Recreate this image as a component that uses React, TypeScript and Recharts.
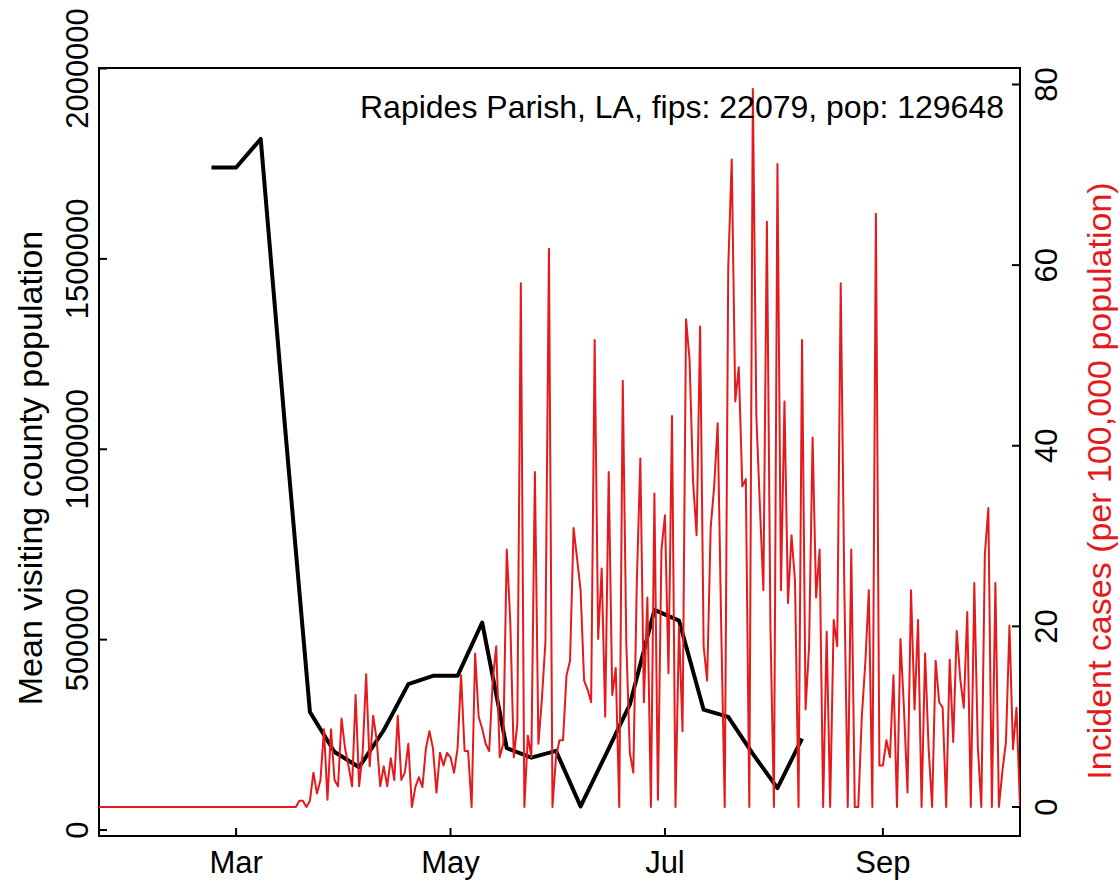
// Rapides Parish: mean visiting county population (weekly, left axis)
// against daily incident cases per 100,000 (right axis, red)

import {
  ComposedChart,
  Line,
  XAxis,
  YAxis,
  ReferenceArea,
} from 'recharts'

// day index: 0 = 1 Mar 2020, series runs 22 Jan (-39) .. 10 Oct (223)
const monthTicks = [0, 61, 122, 184]
const monthLabels = ['Mar', 'May', 'Jul', 'Sep']

const visitDays = [-7, 0, 7, 14, 21, 28, 35, 42, 49, 56, 63, 70, 77, 84, 91, 98, 105, 112, 119, 126, 133, 140, 147, 154, 161]
const visitPop = [
  1740000, 1740000, 1815000, 1050000, 310000, 205000, 165000, 262000, 383000, 405000,
  405000, 545000, 215000, 190000, 208000, 62000, 195000, 329000, 578000, 550000,
  316000, 297000, 200000, 110000, 240000,
]

const caseStartDay = -39
const incidentCases = [
  // 22 Jan - 17 Mar
  0, 0, 0, 0, 0, 0, 0, 0, 0, 0, 0, 0, 0, 0, 0, 0, 0, 0, 0, 0,
  0, 0, 0, 0, 0, 0, 0, 0, 0, 0, 0, 0, 0, 0, 0, 0, 0, 0, 0, 0,
  0, 0, 0, 0, 0, 0, 0, 0, 0, 0, 0, 0, 0, 0, 0, 0, 0,
  // 18 Mar ->
  0.7, 0.7, 0, 0.7, 3.8, 1.5, 3, 8.6, 0.8, 8.6, 3, 2.3, 9.8, 6.5, 4.5, 2.3, 12.4, 2.3, 6, 14.7,
  4.5, 10.1, 7.4, 2.3, 4.5, 2.3, 5.4, 3, 10.1, 3, 3.8, 7, 0, 2.2, 3.3, 2.2, 6.5, 8.4, 6.5, 1.6,
  6, 4.6, 6, 5.5, 3.8, 6.5, 14.6, 6.2, 6.2, 0, 17, 10, 8.7, 7, 6.2, 14, 17.8, 5.5, 7, 28.5,
  20.5, 5.5, 9.2, 58, 0, 7.9, 5.5, 37.1, 7, 12, 18.3, 61.8, 0, 5.5, 7.4, 7.4, 14.6, 16.2, 30.9, 27.5,
  24, 14, 13, 11.6, 51.7, 18.6, 26.4, 10, 37.1, 12.4, 15.4, 0, 47.2, 18.3, 6, 3.8, 25, 38.6, 11.6, 23.2,
  0, 34.7, 0.8, 28.5, 32.3, 14.8, 43.3, 0, 20, 8.4, 54, 49.5, 36, 30.1, 53.2, 17.8, 14, 30.9, 35.5, 42.5,
  20, 0, 59.7, 71.7, 44.9, 48.7, 35.5, 36.3, 0, 79.5, 43.3, 33.4, 24, 64.8, 20, 0, 71.2, 24, 44.9, 22.6,
  30.1, 25, 0, 51.7, 10.8, 17.8, 40.9, 23.2, 28.5, 0, 19.4, 0, 20.7, 17.8, 58, 25, 0, 28.5, 0, 0,
  10, 16, 24, 0, 65.7, 4.6, 4.6, 7.4, 5.5, 14.6, 0, 18.6, 10.8, 1.6, 24, 10.8, 20.7, 0, 17, 6.5,
  0, 16.2, 11.6, 11, 0, 16.3, 7.2, 19.5, 14.2, 11, 21.6, 0, 24.8, 6.7, 0, 28, 33.1, 0, 24.8, 0,
  4, 7.2, 20.1, 6.4, 11, 0,
]

const leftTicks = [0, 500000, 1000000, 1500000, 2000000]
const rightTicks = [0, 20, 40, 60, 80]

const visitData = visitDays.map((d, i) => ({ d, pop: visitPop[i] }))
const caseData = incidentCases.map((v, i) => ({ d: caseStartDay + i, cases: v }))

const FONT = '"Liberation Sans", Arial, Helvetica, sans-serif'
const RED = '#e41a1c'

const PLOT_L = 99
const PLOT_R = 1020
const PLOT_B = 836

const LeftTick = ({ y, payload }: any) => (
  <g>
    <line x1={PLOT_L} x2={PLOT_L + 8} y1={y} y2={y} stroke="#000" strokeWidth={2} />
    <text x={78} y={y} transform={`rotate(-90 78 ${y})`} textAnchor="middle"
      dominantBaseline="central" fontSize={31} fontFamily={FONT} fill="#000">
      {payload.value}
    </text>
  </g>
)

const RightTick = ({ y, payload }: any) => (
  <g>
    <line x1={PLOT_R - 8} x2={PLOT_R} y1={y} y2={y} stroke="#000" strokeWidth={2} />
    <text x={1047} y={y} transform={`rotate(-90 1047 ${y})`} textAnchor="middle"
      dominantBaseline="central" fontSize={31} fontFamily={FONT} fill="#000">
      {payload.value}
    </text>
  </g>
)

const BottomTick = ({ x, payload, index }: any) => (
  <g>
    <line x1={x} x2={x} y1={PLOT_B - 8} y2={PLOT_B} stroke="#000" strokeWidth={2} />
    <text x={x} y={873} textAnchor="middle" fontSize={31} fontFamily={FONT} fill="#000">
      {monthLabels[index] ?? payload.value}
    </text>
  </g>
)

export default function App() {
  return (
    <div style={{ position: 'absolute', left: 0, top: 0, width: 1119, height: 884, background: '#fff' }}>
      <ComposedChart width={1119} height={884} margin={{ top: 68, right: 0, bottom: 0, left: 0 }}>
        <XAxis
          dataKey="d"
          type="number"
          domain={[-39, 223]}
          ticks={monthTicks}
          height={48}
          axisLine={false}
          tickLine={false}
          tick={<BottomTick />}
          allowDataOverflow
        />
        <YAxis
          yAxisId="left"
          orientation="left"
          width={99}
          domain={[-15758, 2001313]}
          ticks={leftTicks}
          axisLine={false}
          tickLine={false}
          tick={<LeftTick />}
          allowDataOverflow
        />
        <YAxis
          yAxisId="right"
          orientation="right"
          width={99}
          domain={[-3.211, 81.827]}
          ticks={rightTicks}
          axisLine={false}
          tickLine={false}
          tick={<RightTick />}
          allowDataOverflow
        />
        <ReferenceArea yAxisId="left" x1={-39} x2={223} y1={-15758} y2={2001313}
          fill="none" stroke="#000" strokeWidth={2} />
        <Line
          yAxisId="left"
          data={visitData}
          dataKey="pop"
          type="linear"
          stroke="#000"
          strokeWidth={4}
          strokeLinejoin="round"
          dot={false}
          isAnimationActive={false}
        />
        <Line
          yAxisId="right"
          data={caseData}
          dataKey="cases"
          type="linear"
          stroke={RED}
          strokeWidth={2}
          strokeLinejoin="round"
          dot={false}
          isAnimationActive={false}
        />
      </ComposedChart>
      <svg width={1119} height={884} style={{ position: 'absolute', left: 0, top: 0, pointerEvents: 'none' }}>
        <text x={1004} y={118} textAnchor="end" fontSize={32} fontFamily={FONT} fill="#000">
          Rapides Parish, LA, fips: 22079, pop: 129648
        </text>
        <text x={30} y={468} transform="rotate(-90 30 468)" textAnchor="middle"
          dominantBaseline="central" fontSize={34} fontFamily={FONT} fill="#000">
          Mean visiting county population
        </text>
        <text x={1099} y={481} transform="rotate(-90 1099 481)" textAnchor="middle"
          dominantBaseline="central" fontSize={34} fontFamily={FONT} fill={RED}>
          Incident cases (per 100,000 population)
        </text>
      </svg>
    </div>
  )
}
